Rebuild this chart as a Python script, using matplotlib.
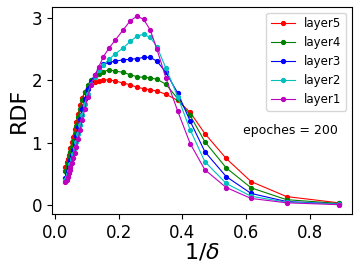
import numpy as np
import matplotlib
matplotlib.use('Agg')
import matplotlib.pyplot as plt

# 1/delta grid shared by all layers
inv_delta = [0.033, 0.037, 0.040, 0.043, 0.046, 0.049, 0.053, 0.057, 0.062, 0.067,
             0.073, 0.079, 0.086, 0.094, 0.103, 0.113, 0.125, 0.138, 0.152, 0.170,
             0.190, 0.214, 0.237, 0.258, 0.278, 0.299, 0.320, 0.348, 0.385, 0.424,
             0.470, 0.537, 0.615, 0.726, 0.889]

layer5 = [0.62, 0.69, 0.74, 0.80, 0.86, 0.92, 1.01, 1.10, 1.22, 1.33,
          1.47, 1.60, 1.72, 1.82, 1.89, 1.94, 1.97, 1.99, 2.01, 2.01,
          1.99, 1.96, 1.93, 1.89, 1.87, 1.85, 1.83, 1.78, 1.68, 1.49,
          1.15, 0.75, 0.38, 0.14, 0.04]
layer4 = [0.55, 0.62, 0.67, 0.73, 0.79, 0.85, 0.94, 1.03, 1.15, 1.27,
          1.41, 1.55, 1.69, 1.82, 1.92, 2.00, 2.06, 2.11, 2.14, 2.17,
          2.15, 2.13, 2.09, 2.06, 2.05, 2.04, 2.02, 1.94, 1.71, 1.44,
          1.02, 0.60, 0.28, 0.09, 0.03]
layer3 = [0.44, 0.50, 0.55, 0.61, 0.67, 0.73, 0.81, 0.89, 1.00, 1.11,
          1.25, 1.39, 1.55, 1.71, 1.86, 1.98, 2.09, 2.18, 2.26, 2.29,
          2.31, 2.33, 2.34, 2.35, 2.37, 2.37, 2.31, 2.13, 1.80, 1.35,
          0.86, 0.46, 0.19, 0.06, 0.02]
layer2 = [0.40, 0.45, 0.50, 0.55, 0.61, 0.66, 0.74, 0.82, 0.92, 1.02,
          1.15, 1.29, 1.45, 1.62, 1.79, 1.94, 2.06, 2.16, 2.25, 2.34,
          2.43, 2.52, 2.63, 2.71, 2.74, 2.69, 2.54, 2.20, 1.74, 1.21,
          0.70, 0.35, 0.145, 0.05, 0.02]
layer1 = [0.37, 0.41, 0.46, 0.51, 0.56, 0.61, 0.68, 0.75, 0.84, 0.94,
          1.06, 1.20, 1.36, 1.55, 1.74, 1.92, 2.08, 2.22, 2.38, 2.52,
          2.65, 2.81, 2.96, 3.03, 2.98, 2.81, 2.50, 2.04, 1.51, 0.99,
          0.57, 0.285, 0.11, 0.04, 0.01]

series = [('layer5', layer5, 'r'), ('layer4', layer4, 'g'), ('layer3', layer3, 'b'),
          ('layer2', layer2, 'c'), ('layer1', layer1, 'm')]

fig = plt.figure(figsize=(3.59, 2.71), dpi=100)
ax = fig.add_axes([0.144, 0.21, 0.837, 0.765])
for name, vals, col in series:
    ax.plot(inv_delta, vals, color=col, marker='o', markersize=2.8, linewidth=0.8, label=name)

ax.legend(fontsize=8.5)
ax.text(0.59, 1.15, 'epoches = 200', fontsize=9)
ax.set_xlabel(r'$1/\delta$', fontsize=16, labelpad=0)
ax.set_ylabel('RDF', fontsize=16, labelpad=2)
ax.set_xticks([0.0, 0.2, 0.4, 0.6, 0.8])
ax.set_yticks([0, 1, 2, 3])
ax.tick_params(labelsize=12)
fig.savefig('out.png', dpi=100)
